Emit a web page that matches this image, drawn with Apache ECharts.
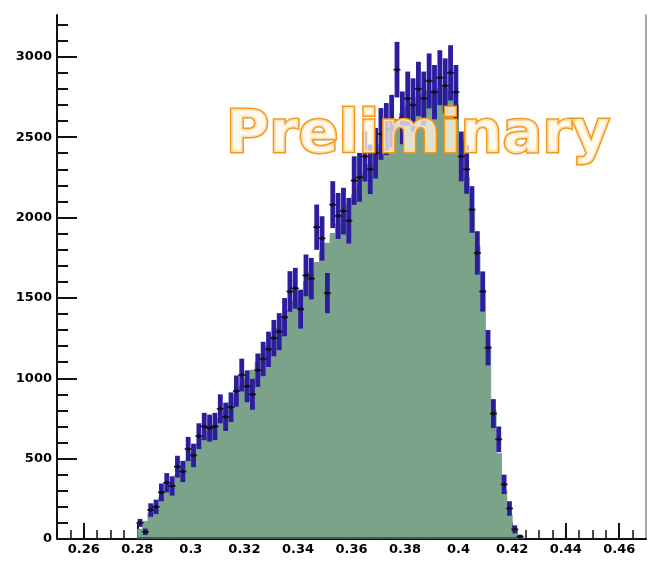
<!DOCTYPE html>
<html>
<head>
<meta charset="utf-8">
<script src="https://cdn.jsdelivr.net/npm/echarts@6/dist/echarts.min.js"></script>
<style>
  html, body { margin: 0; padding: 0; background: #fff; }
  #chart { width: 648px; height: 564px; }
</style>
</head>
<body>
<div id="chart"></div>
<script>
// Histogram bin centres (bin width 0.002)
const binCenters = [
  0.281, 0.283, 0.285, 0.287, 0.289, 0.291, 0.293, 0.295, 0.297, 0.299,
  0.301, 0.303, 0.305, 0.307, 0.309, 0.311, 0.313, 0.315, 0.317, 0.319,
  0.321, 0.323, 0.325, 0.327, 0.329, 0.331, 0.333, 0.335, 0.337, 0.339,
  0.341, 0.343, 0.345, 0.347, 0.349, 0.351, 0.353, 0.355, 0.357, 0.359,
  0.361, 0.363, 0.365, 0.367, 0.369, 0.371, 0.373, 0.375, 0.377, 0.379,
  0.381, 0.383, 0.385, 0.387, 0.389, 0.391, 0.393, 0.395, 0.397, 0.399,
  0.401, 0.403, 0.405, 0.407, 0.409, 0.411, 0.413, 0.415, 0.417, 0.419,
  0.421, 0.423
];
const binWidth = 0.002;

// Simulated distribution (filled histogram)
const mcCounts = [
  60, 110, 160, 210, 260, 300, 350, 400, 450, 490,
  540, 590, 630, 670, 710, 750, 800, 850, 900, 950,
  1000, 1050, 1100, 1150, 1200, 1260, 1310, 1370, 1420, 1480,
  1540, 1600, 1660, 1720, 1780, 1840, 1900, 1960, 2020, 2080,
  2140, 2200, 2270, 2330, 2390, 2450, 2510, 2570, 2610, 2650,
  2690, 2720, 2750, 2770, 2790, 2800, 2810, 2800, 2780, 2700,
  2480, 2250, 2050, 1820, 1550, 1200, 800, 530, 300, 150,
  55, 10
];

// Measured points and their uncertainties
const dataCounts = [
  100, 45, 180, 200, 290, 350, 330, 450, 420, 560,
  520, 640, 700, 690, 700, 810, 760, 820, 920, 1020,
  950, 900, 1050, 1120, 1180, 1250, 1290, 1380, 1540, 1560,
  1430, 1640, 1620, 1940, 1870, 1530, 2080, 2010, 2040, 1980,
  2230, 2250, 2380, 2300, 2400, 2520, 2550, 2600, 2920, 2620,
  2740, 2700, 2800, 2740, 2850, 2780, 2870, 2820, 2900, 2780,
  2380, 2300, 2050, 1780, 1540, 1190, 780, 620, 340, 190,
  60, 15
];
const dataErrors = [
  25, 20, 42, 45, 55, 60, 60, 68, 66, 75,
  73, 80, 85, 84, 85, 90, 88, 92, 97, 102,
  99, 96, 104, 107, 110, 113, 115, 119, 126, 127,
  121, 130, 129, 141, 138, 125, 146, 143, 145, 142,
  151, 152, 156, 154, 157, 161, 162, 163, 173, 164,
  168, 166, 169, 168, 171, 169, 171, 170, 172, 169,
  155, 152, 145, 135, 125, 110, 90, 80, 60, 45,
  25, 12
];

// Axis ticks
const xLabelTicks = [0.26, 0.28, 0.30, 0.32, 0.34, 0.36, 0.38, 0.40, 0.42, 0.44, 0.46];
const xMinorTicks = [
  0.255, 0.265, 0.27, 0.275, 0.285, 0.29, 0.295, 0.305, 0.31, 0.315,
  0.325, 0.33, 0.335, 0.345, 0.35, 0.355, 0.365, 0.37, 0.375, 0.385,
  0.39, 0.395, 0.405, 0.41, 0.415, 0.425, 0.43, 0.435, 0.445, 0.45,
  0.455, 0.465
];
const yLabelTicks = [0, 500, 1000, 1500, 2000, 2500, 3000];
const yMinorTicks = [
  100, 200, 300, 400, 600, 700, 800, 900, 1100, 1200, 1300, 1400,
  1600, 1700, 1800, 1900, 2100, 2200, 2300, 2400, 2600, 2700, 2800, 2900,
  3100, 3200
];

const X_MIN = 0.25, X_MAX = 0.47, Y_MIN = 0, Y_MAX = 3260;

const labelFont = {
  fontFamily: 'DejaVu Sans',
  fontWeight: 'bold',
  fontSize: 13,
  color: '#000'
};

// step outline: each bin's left edge carries its count, closed at the last right edge
const mcStepData = binCenters.map((c, i) => [c - binWidth / 2, mcCounts[i]]);
mcStepData.push([binCenters[binCenters.length - 1] + binWidth / 2, 0]);
const mcSeriesData = binCenters.map((c, i) => [c, mcCounts[i]]);
const pointSeriesData = binCenters.map((c, i) => [c, dataCounts[i], dataErrors[i]]);

const chart = echarts.init(document.getElementById('chart'), null, { renderer: 'canvas' });

chart.setOption({
  animation: false,
  backgroundColor: '#ffffff',
  grid: { left: 57, right: 2, top: 15, bottom: 25, containLabel: false },
  xAxis: [
    {
      type: 'value', min: X_MIN, max: X_MAX, position: 'bottom',
      axisLine: { show: true, onZero: false, lineStyle: { color: '#7aa88a', width: 2 } },
      axisTick: { show: true, inside: true, length: 16, customValues: xLabelTicks,
        lineStyle: { color: '#111', width: 2 } },
      axisLabel: Object.assign({ customValues: xLabelTicks, margin: 4,
        formatter: v => String(parseFloat(Number(v).toFixed(2))) }, labelFont),
      splitLine: { show: false }
    },
    {
      type: 'value', min: X_MIN, max: X_MAX, position: 'bottom',
      axisLine: { show: false },
      axisTick: { show: true, inside: true, length: 9, customValues: xMinorTicks,
        lineStyle: { color: '#111', width: 1.5 } },
      axisLabel: { show: false },
      splitLine: { show: false }
    },
    {
      type: 'value', min: X_MIN, max: X_MAX, position: 'top',
      axisLine: { show: true, lineStyle: { color: '#111', width: 2 } },
      axisTick: { show: false }, axisLabel: { show: false }, splitLine: { show: false }
    }
  ],
  yAxis: [
    {
      type: 'value', min: Y_MIN, max: Y_MAX, position: 'left',
      axisLine: { show: true, onZero: false, lineStyle: { color: '#111', width: 2 } },
      axisTick: { show: true, inside: true, length: 20, customValues: yLabelTicks,
        lineStyle: { color: '#111', width: 2 } },
      axisLabel: Object.assign({ customValues: yLabelTicks, margin: 5,
        formatter: v => String(Math.round(v)) }, labelFont),
      splitLine: { show: false }
    },
    {
      type: 'value', min: Y_MIN, max: Y_MAX, position: 'left',
      axisLine: { show: false },
      axisTick: { show: true, inside: true, length: 11, customValues: yMinorTicks,
        lineStyle: { color: '#111', width: 2 } },
      axisLabel: { show: false }, splitLine: { show: false }
    },
    {
      type: 'value', min: Y_MIN, max: Y_MAX, position: 'right',
      axisLine: { show: true, lineStyle: { color: '#888', width: 1.5 } },
      axisTick: { show: false }, axisLabel: { show: false }, splitLine: { show: false }
    }
  ],
  series: [
    {
      // filled step histogram
      type: 'line',
      xAxisIndex: 0, yAxisIndex: 0,
      step: 'end',
      symbol: 'none',
      z: 2,
      data: mcStepData,
      lineStyle: { color: '#7aa38a', width: 1 },
      areaStyle: { color: '#7aa38a', opacity: 1, origin: 0 }
    },
    {
      // dark baseline under the filled region
      type: 'custom',
      xAxisIndex: 0, yAxisIndex: 0,
      clip: true,
      z: 2.5,
      data: mcSeriesData,
      renderItem: function (params, api) {
        const l = api.coord([api.value(0) - binWidth / 2, 0]);
        const r = api.coord([api.value(0) + binWidth / 2, 0]);
        return {
          type: 'line',
          shape: { x1: l[0], y1: l[1] - 1, x2: r[0], y2: r[1] - 1 },
          style: { stroke: '#3f5d4b', lineWidth: 2 }
        };
      }
    },
    {
      // vertical uncertainty bands of the measured points
      type: 'custom',
      xAxisIndex: 0, yAxisIndex: 0,
      clip: true,
      z: 3,
      data: pointSeriesData,
      renderItem: function (params, api) {
        const c = api.value(0), v = api.value(1), e = api.value(2);
        const hi = api.coord([c - 0.0009, v + e]);
        const lo = api.coord([c + 0.0009, Math.max(v - e, 0)]);
        return {
          type: 'rect',
          shape: { x: hi[0], y: hi[1], width: lo[0] - hi[0], height: lo[1] - hi[1] },
          style: { fill: '#2c1c9e' }
        };
      }
    },
    {
      // point markers
      type: 'custom',
      xAxisIndex: 0, yAxisIndex: 0,
      clip: true,
      z: 4,
      data: pointSeriesData,
      renderItem: function (params, api) {
        const c = api.value(0), v = api.value(1);
        const l = api.coord([c - 0.0013, v]);
        const r = api.coord([c + 0.0013, v]);
        const m = api.coord([c, v]);
        return {
          type: 'group',
          children: [
            { type: 'line', shape: { x1: l[0], y1: l[1], x2: r[0], y2: r[1] },
              style: { stroke: '#111', lineWidth: 1.6 } },
            { type: 'circle', shape: { cx: m[0], cy: m[1], r: 1.8 },
              style: { fill: '#111' } }
          ]
        };
      }
    }
  ],
  graphic: [
    {
      type: 'text',
      x: 418,
      y: 137,
      z: 100,
      style: {
        text: 'Preliminary',
        font: 'bold 59px "DejaVu Sans"',
        align: 'center',
        verticalAlign: 'middle',
        fill: 'rgba(255,247,232,0.75)',
        stroke: '#f5981a',
        lineWidth: 3,
        shadowBlur: 10,
        shadowColor: 'rgba(255,150,30,0.95)'
      }
    }
  ]
});
</script>
</body>
</html>
